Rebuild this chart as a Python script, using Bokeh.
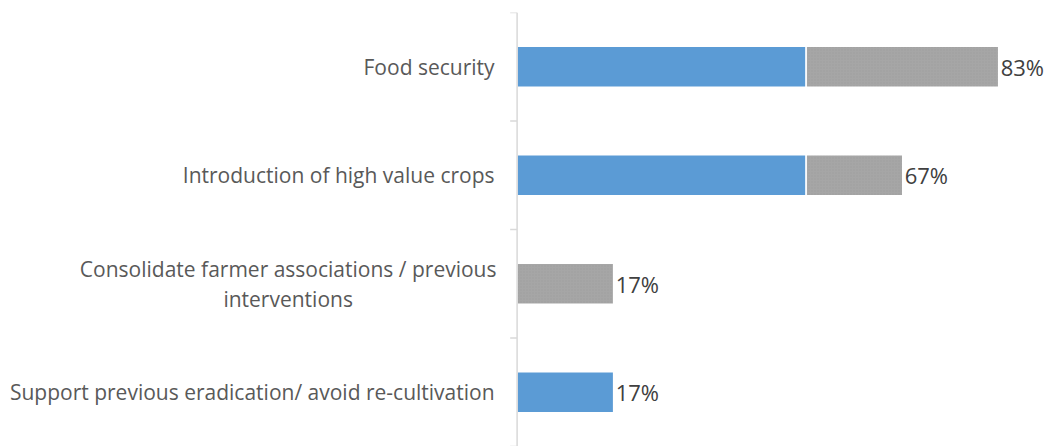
import numpy as np
from bokeh.plotting import figure
from bokeh.models import ColumnDataSource, Range1d, Span
from bokeh.core.properties import value
from bokeh.embed import file_html
from bokeh.resources import INLINE

# ---- data ----
categories = [
    "Food security",
    "Introduction of high value crops",
    "Consolidate farmer associations / previous\ninterventions",
    "Support previous eradication/ avoid re-cultivation",
]
series_blue = [50.0, 50.0, 0.0, 16.7]
series_grey = [33.3, 16.7, 16.7, 0.0]

# ---- derived ----
n = len(categories)
idx = np.arange(n)
blue = np.array(series_blue)
grey = np.array(series_grey)
total = blue + grey
total_labels = [f"{round(t):.0f}%" for t in total]

FONT = value("Open Sans")

p = figure(width=1045, height=446, output_backend="svg", toolbar_location=None,
           x_range=Range1d(-89.36, 91.4), y_range=Range1d(n - 0.5, -0.5),
           x_axis_location=None, y_axis_location=None,
           min_border_left=0, min_border_right=0, min_border_top=12, min_border_bottom=0)
for g in p.grid:
    g.visible = False
p.outline_line_color = None
p.background_fill_color = "white"
p.border_fill_color = "white"

mb = blue > 0
src_blue = ColumnDataSource(dict(y=idx[mb], left=np.zeros(mb.sum()), right=blue[mb]))
mg = grey > 0
src_grey = ColumnDataSource(dict(y=idx[mg], left=blue[mg], right=total[mg]))

p.hbar(y="y", left="left", right="right", height=0.38, source=src_blue,
       fill_color="#5b9bd5", line_color="white", line_width=1.5)
p.hbar(y="y", left="left", right="right", height=0.38, source=src_grey,
       fill_color="#a6a6a6", line_color="white", line_width=1.5,
       hatch_pattern="dot", hatch_color="#8c8c8c", hatch_alpha=0.35,
       hatch_scale=3, hatch_weight=1)

# axis line and boundary ticks
p.add_layout(Span(location=0, dimension="height", line_color="#d9d9d9", line_width=1.5))
bounds = np.arange(n + 1) - 0.5
p.segment(x0=np.full(n + 1, -1.2), x1=np.zeros(n + 1), y0=bounds, y1=bounds,
          line_color="#d9d9d9", line_width=1.5)

# category labels
single = [i for i, c in enumerate(categories) if "\n" not in c]
multi = [i for i, c in enumerate(categories) if "\n" in c]
p.text(x=np.full(len(single), -3.9), y=idx[single], text=[categories[i] for i in single],
       text_align="right", text_baseline="middle", text_font=FONT,
       text_font_size=value("21px"), text_color="#595959")
if multi:
    p.text(x=np.full(len(multi), -39.6), y=idx[multi], text=[categories[i] for i in multi],
           text_align="center", text_baseline="middle", text_font=FONT,
           text_font_size=value("21px"), text_color="#595959", text_line_height=1.08)

# value labels
p.text(x=total, y=idx, text=total_labels, x_offset=2, text_align="left",
       text_baseline="middle", text_font=FONT, text_font_size=value("22px"),
       text_color="#404040")

open("out.html", "w").write(file_html(p, INLINE))
